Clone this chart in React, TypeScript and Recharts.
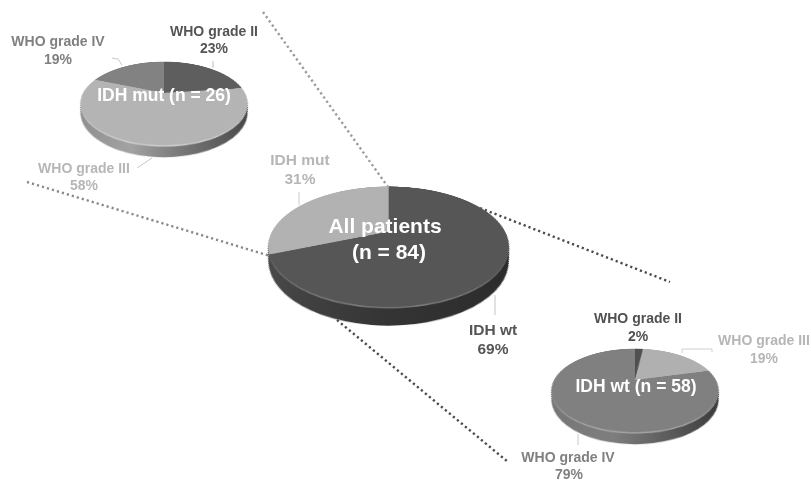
import React from "react";
import { PieChart, Pie, Cell } from "recharts";

const mutNames = ["WHO grade II", "WHO grade III", "WHO grade IV"];
const mutValues = [23, 58, 19];
const mutColors = ["#5e5e5e", "#b4b4b4", "#828282"];

const allNames = ["IDH wt", "IDH mut"];
const allValues = [69, 31];
const allColors = ["#565656", "#b2b2b2"];

const wtNames = ["WHO grade II", "WHO grade III", "WHO grade IV"];
const wtValues = [2, 19, 79];
const wtColors = ["#505050", "#b0b0b0", "#808080"];

const toRows = (names: string[], values: number[]) =>
  names.map((name, i) => ({ name, value: values[i] }));

type P3 = {
  id: string;
  names: string[];
  values: number[];
  colors: string[];
  cx: number;
  apexY: number;
  R: number;
  depth: number;
  rim: string;
  sideStops: [number, string][];
};

function Pie3D({ id, names, values, colors, cx, apexY, R, depth, rim, sideStops }: P3) {
  const S = 2 * R + 2 * depth + 20;
  const c = S / 2;
  const rows = toRows(names, values);
  const offsets: number[] = [];
  for (let k = depth; k >= 3; k--) offsets.push(k);
  const common = { dataKey: "value", startAngle: 90, endAngle: -270, innerRadius: 0, stroke: "none", isAnimationActive: false, label: false, labelLine: false, legendType: "none" as const };
  return (
    <div
      style={{
        position: "absolute",
        left: cx - c,
        top: apexY - c,
        width: S,
        height: S,
        transformOrigin: "50% 50%",
        transform: `perspective(${Math.round(3.5 * R)}px) rotateX(61deg)`,
      }}
    >
      <PieChart width={S} height={S} margin={{ top: 0, right: 0, bottom: 0, left: 0 }}>
        <defs>
          <linearGradient id={id} gradientUnits="userSpaceOnUse" x1={c - R} y1={0} x2={c + R} y2={0}>
            {sideStops.map(([o, col], i) => (
              <stop key={i} offset={o} stopColor={col} />
            ))}
          </linearGradient>
        </defs>
        {offsets.map((k) => (
          <Pie key={k} {...common} outerRadius={R - 0.27 * k} data={rows} cx={c} cy={c + k}>
            {rows.map((_, i) => (
              <Cell key={i} fill={`url(#${id})`} />
            ))}
          </Pie>
        ))}
        <Pie {...common} outerRadius={R - 0.6} data={rows} cx={c} cy={c + 2.2}>
          {rows.map((_, i) => (
            <Cell key={i} fill={rim} />
          ))}
        </Pie>
        <Pie {...common} outerRadius={R} data={rows} cx={c} cy={c}>
          {rows.map((_, i) => (
            <Cell key={i} fill={colors[i]} />
          ))}
        </Pie>
      </PieChart>
    </div>
  );
}

const dotted: [number, number, number, number, string][] = [
  [263, 12, 388, 187, "#9a9a9a"],
  [27, 182, 270, 256, "#8a8a8a"],
  [480, 208, 670, 282, "#4a4a4a"],
  [337, 320, 508, 462, "#4a4a4a"],
];

const leaders: [string, string][] = [
  ["213,61 213,68", "#bdbdbd"],
  ["112,58 118,59 122,65", "#c8c8c8"],
  ["137,168 152,158", "#c8c8c8"],
  ["299,192 299,205", "#cccccc"],
  ["495,295 495,315", "#c4c4c4"],
  ["682,353 682,349 712,349 712,352", "#d0d0d0"],
  ["578,434 578,445", "#c8c8c8"],
];

const labels: [string, number, number, number, string][] = [
  ["WHO grade II", 214, 36, 14, "#555555"],
  ["23%", 214, 53, 14, "#555555"],
  ["WHO grade IV", 58, 46, 14, "#808080"],
  ["19%", 58, 64, 14, "#808080"],
  ["WHO grade III", 84, 173, 14, "#b6b6b6"],
  ["58%", 84, 190, 14, "#b6b6b6"],
  ["IDH mut", 300, 165, 15.5, "#b6b6b6"],
  ["31%", 300, 184, 15.5, "#b6b6b6"],
  ["IDH wt", 493, 335, 15.5, "#555555"],
  ["69%", 493, 354, 15.5, "#555555"],
  ["WHO grade II", 638, 323, 14, "#505050"],
  ["2%", 638, 341, 14, "#505050"],
  ["WHO grade III", 764, 345, 14, "#b6b6b6"],
  ["19%", 764, 363, 14, "#b6b6b6"],
  ["WHO grade IV", 568, 462, 14, "#808080"],
  ["79%", 569, 479, 14, "#808080"],
  ["IDH mut (n = 26)", 164, 101, 17.5, "#ffffff"],
  ["All patients", 385, 233, 21, "#ffffff"],
  ["(n = 84)", 389, 259, 21, "#ffffff"],
  ["IDH wt (n = 58)", 636, 392, 17.5, "#ffffff"],
];

export default function App() {
  return (
    <div
      style={{
        position: "absolute",
        left: 0,
        top: 0,
        width: 811,
        height: 481,
        overflow: "hidden",
        background: "#fff",
        filter: "blur(0.6px)",
      }}
    >
      <svg width={811} height={481} style={{ position: "absolute", left: 0, top: 0 }}>
        {dotted.map(([x1, y1, x2, y2, col], i) => (
          <line key={i} x1={x1} y1={y1} x2={x2} y2={y2} stroke={col} strokeWidth={2.4} strokeDasharray="2.2 3" />
        ))}
        {leaders.map(([pts, col], i) => (
          <polyline key={i} points={pts} fill="none" stroke={col} strokeWidth={1} />
        ))}
      </svg>
      <Pie3D
        id="sideA" names={mutNames} values={mutValues} colors={mutColors}
        cx={164} apexY={92.5} R={81} depth={18} rim="#cfcfcf"
        sideStops={[[0, "#8a8a8a"], [0.35, "#a2a2a2"], [0.6, "#747474"], [1, "#3e3e3e"]]}
      />
      <Pie3D
        id="sideB" names={allNames} values={allValues} colors={allColors}
        cx={388.5} apexY={232} R={116.6} depth={28} rim="#7c7c7c"
        sideStops={[[0, "#4c4c4c"], [0.5, "#343434"], [1, "#2a2a2a"]]}
      />
      <Pie3D
        id="sideC" names={wtNames} values={wtValues} colors={wtColors}
        cx={634.5} apexY={380} R={81} depth={18} rim="#a6a6a6"
        sideStops={[[0, "#747474"], [0.4, "#7e7e7e"], [0.7, "#555555"], [1, "#333333"]]}
      />
      <svg width={811} height={481} style={{ position: "absolute", left: 0, top: 0 }}>
        {labels.map(([t, x, y, size, col], i) => (
          <text key={i} x={x} y={y} fontSize={size} fontWeight={700} fontFamily="'Liberation Sans', Arial, sans-serif" fill={col} textAnchor="middle">
            {t}
          </text>
        ))}
      </svg>
    </div>
  );
}
